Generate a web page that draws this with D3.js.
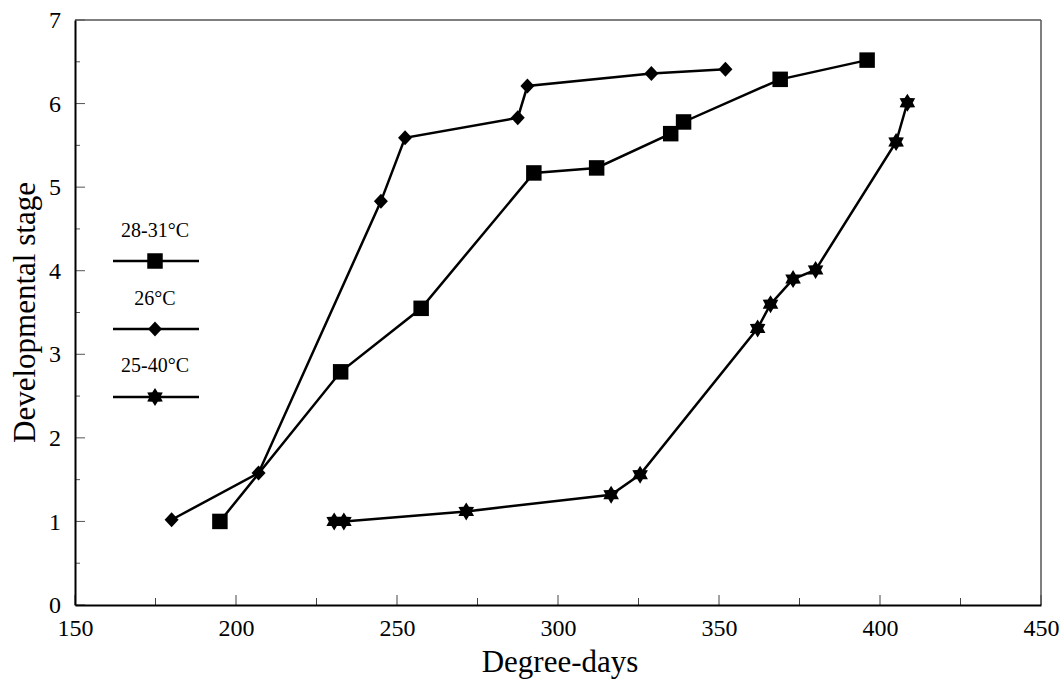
<!DOCTYPE html>
<html>
<head>
<meta charset="utf-8">
<script src="https://cdn.jsdelivr.net/npm/d3@7"></script>
<style>
	body { margin: 0; background: #fff; }
	text { font-family: "Liberation Serif", "DejaVu Serif", serif; fill: #000; }
</style>
</head>
<body>
<svg id="chart" width="1063" height="679"></svg>
<script>
// series: 28-31°C (squares)
const hotDays = [195, 232.5, 257.5, 292.5, 312, 335, 339, 369, 396];
const hotStage = [1.0, 2.79, 3.55, 5.17, 5.23, 5.64, 5.78, 6.29, 6.52];

// series: 26°C (diamonds)
const midDays = [180, 207, 245, 252.5, 287.5, 290.5, 329, 352];
const midStage = [1.02, 1.58, 4.83, 5.59, 5.83, 6.21, 6.36, 6.41];

// series: 25-40°C (stars)
const varDays = [230.5, 233.5, 271.5, 316.5, 325.5, 362, 366, 373, 380, 405, 408.5];
const varStage = [1.0, 1.0, 1.12, 1.32, 1.56, 3.31, 3.6, 3.9, 4.01, 5.54, 6.01];

const legendLabels = ["28-31°C", "26°C", "25-40°C"];
const xTickValues = [150, 200, 250, 300, 350, 400, 450];
const yTickValues = [0, 1, 2, 3, 4, 5, 6, 7];

const svg = d3.select("#chart");

const plotLeft = 75, plotRight = 1041, plotTop = 20, plotBottom = 605;

const xScale = d3.scaleLinear().domain([150, 450]).range([plotLeft, plotRight]);
const yScale = d3.scaleLinear().domain([0, 7]).range([plotBottom, plotTop]);

// hexagram path for the star marker
function hexStar(r) {
	const pts = d3.range(12).map(i => {
		const a = Math.PI / 6 * i - Math.PI / 2;
		const rr = i % 2 === 0 ? r : r * 0.6;
		return [rr * Math.cos(a), rr * Math.sin(a)];
	});
	return "M" + pts.map(p => p.join(",")).join("L") + "Z";
}

const markers = {
	square: d3.symbol().type(d3.symbolSquare).size(240)(),
	diamond: "M0,-7.5L7,0L0,7.5L-7,0Z",
	star: hexStar(9)
};

// frame (top/right lighter)
svg.append("line")
	.attr("x1", plotLeft).attr("x2", plotRight)
	.attr("y1", plotTop).attr("y2", plotTop)
	.attr("stroke", "#555").attr("stroke-width", 1.3);
svg.append("line")
	.attr("x1", plotRight).attr("x2", plotRight)
	.attr("y1", plotTop).attr("y2", plotBottom)
	.attr("stroke", "#555").attr("stroke-width", 1.5);

// minor/major ticks inside
const xMinor = d3.range(150, 451, 25);
svg.selectAll(".xtick")
	.data(xMinor)
	.enter()
	.append("line")
	.attr("class", "xtick")
	.attr("x1", d => xScale(d)).attr("x2", d => xScale(d))
	.attr("y1", plotBottom)
	.attr("y2", d => plotBottom - (d % 50 === 0 ? 10 : 7))
	.attr("stroke", "#444").attr("stroke-width", 1);

const yMinor = d3.range(0, 7.01, 0.5);
svg.selectAll(".ytick")
	.data(yMinor)
	.enter()
	.append("line")
	.attr("class", "ytick")
	.attr("x1", plotLeft)
	.attr("x2", d => plotLeft + (d % 1 === 0 ? 10 : 5))
	.attr("y1", d => yScale(d)).attr("y2", d => yScale(d))
	.attr("stroke", "#555").attr("stroke-width", 1);

// axes
svg.append("g")
	.attr("transform", `translate(0, ${plotBottom})`)
	.call(d3.axisBottom(xScale).tickValues(xTickValues).tickFormat(d3.format("d")).tickSize(0).tickPadding(14))
	.attr("font-family", "Liberation Serif")
	.attr("font-size", 24)
	.call(g => g.select(".domain").attr("stroke", "#000").attr("stroke-width", 2));

svg.append("g")
	.attr("transform", `translate(${plotLeft}, 0)`)
	.call(d3.axisLeft(yScale).tickValues(yTickValues).tickFormat(d3.format("d")).tickSize(0).tickPadding(14))
	.attr("font-family", "Liberation Serif")
	.attr("font-size", 24)
	.call(g => g.select(".domain").attr("stroke", "#000").attr("stroke-width", 2));

// axis titles
svg.append("text")
	.attr("x", 560)
	.attr("y", 672)
	.attr("text-anchor", "middle")
	.style("font-size", "31px")
	.text("Degree-days");

svg.append("text")
	.attr("transform", `translate(35, ${(plotTop + plotBottom) / 2}) rotate(-90)`)
	.attr("text-anchor", "middle")
	.style("font-size", "31px")
	.text("Developmental stage");

// series
const series = [
	{ x: midDays, y: midStage, marker: "diamond" },
	{ x: hotDays, y: hotStage, marker: "square" },
	{ x: varDays, y: varStage, marker: "star" }
];

const line = d3.line().x(d => xScale(d[0])).y(d => yScale(d[1]));

series.forEach(s => {
	const pts = s.x.map((v, i) => [v, s.y[i]]);
	svg.append("path")
		.datum(pts)
		.attr("d", line)
		.attr("fill", "none")
		.attr("stroke", "#000")
		.attr("stroke-width", 2.5);
	svg.selectAll(null)
		.data(pts)
		.enter()
		.append("path")
		.attr("d", markers[s.marker])
		.attr("transform", d => `translate(${xScale(d[0])}, ${yScale(d[1])})`)
		.attr("fill", "#000");
});

// legend
const legendMarkers = ["square", "diamond", "star"];
const legendTextY = [237, 305, 372];
const legendLineY = [261, 329, 397];
legendLabels.forEach((lab, i) => {
	svg.append("text")
		.attr("x", 155)
		.attr("y", legendTextY[i])
		.attr("text-anchor", "middle")
		.style("font-size", "20px")
		.text(lab);
	svg.append("line")
		.attr("x1", 113).attr("x2", 199)
		.attr("y1", legendLineY[i]).attr("y2", legendLineY[i])
		.attr("stroke", "#000").attr("stroke-width", 2.5);
	svg.append("path")
		.attr("d", markers[legendMarkers[i]])
		.attr("transform", `translate(155, ${legendLineY[i]})`)
		.attr("fill", "#000");
});
</script>
</body>
</html>
